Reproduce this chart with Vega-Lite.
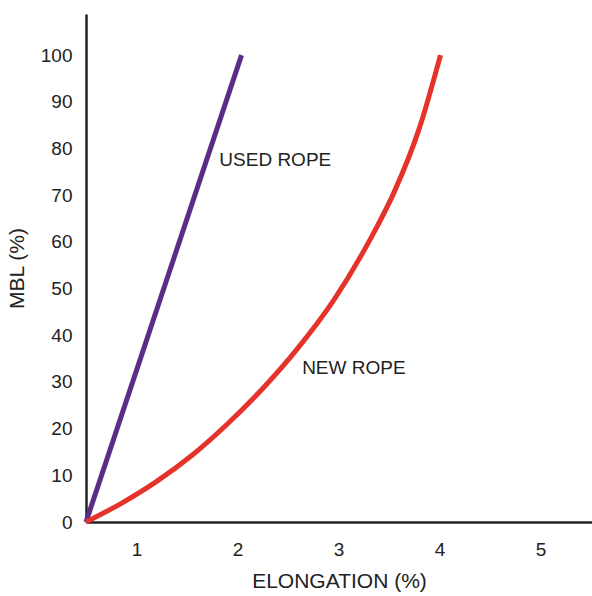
{
  "$schema": "https://vega.github.io/schema/vega-lite/v6.json",
  "width": 506,
  "height": 508,
  "autosize": "none",
  "padding": {"left": 86, "top": 14, "right": 0, "bottom": 74},
  "background": "white",
  "config": {
    "view": {"stroke": null},
    "font": "Liberation Sans"
  },
  "datasets": {
    "curves": [
      {"rope": "USED ROPE", "elong": 0.5, "mbl": 0},
      {"rope": "USED ROPE", "elong": 2.04, "mbl": 100},
      {"rope": "NEW ROPE", "elong": 0.5, "mbl": 0},
      {"rope": "NEW ROPE", "elong": 0.85, "mbl": 4.0},
      {"rope": "NEW ROPE", "elong": 1.2, "mbl": 8.7},
      {"rope": "NEW ROPE", "elong": 1.55, "mbl": 14.3},
      {"rope": "NEW ROPE", "elong": 1.9, "mbl": 21.0},
      {"rope": "NEW ROPE", "elong": 2.25, "mbl": 28.6},
      {"rope": "NEW ROPE", "elong": 2.6, "mbl": 37.3},
      {"rope": "NEW ROPE", "elong": 2.95, "mbl": 47.4},
      {"rope": "NEW ROPE", "elong": 3.3, "mbl": 60.0},
      {"rope": "NEW ROPE", "elong": 3.55, "mbl": 70.6},
      {"rope": "NEW ROPE", "elong": 3.8, "mbl": 84.3},
      {"rope": "NEW ROPE", "elong": 4.01, "mbl": 100}
    ],
    "labels": [
      {"text": "USED ROPE", "elong": 1.82, "mbl": 77.5},
      {"text": "NEW ROPE", "elong": 2.64, "mbl": 33}
    ]
  },
  "layer": [
    {
      "data": {"name": "curves"},
      "mark": {"type": "line", "strokeWidth": 5, "interpolate": "monotone", "strokeCap": "butt"},
      "encoding": {
        "x": {
          "field": "elong", "type": "quantitative",
          "scale": {"domain": [0.5, 5.51], "nice": false, "zero": false},
          "axis": {
            "title": "ELONGATION (%)", "values": [1, 2, 3, 4, 5], "format": "d",
            "ticks": false, "grid": false, "domainColor": "#222", "domainWidth": 2.5,
            "labelFontSize": 19, "labelColor": "#222", "labelPadding": 18,
            "titleFontSize": 21, "titleFontWeight": "normal", "titleColor": "#222", "titlePadding": 11
          }
        },
        "y": {
          "field": "mbl", "type": "quantitative",
          "scale": {"domain": [0, 108.8], "nice": false},
          "axis": {
            "title": "MBL (%)", "values": [0, 10, 20, 30, 40, 50, 60, 70, 80, 90, 100], "format": "d",
            "ticks": false, "grid": false, "domainColor": "#222", "domainWidth": 2.5,
            "labelFontSize": 19, "labelColor": "#222", "labelPadding": 14,
            "titleFontSize": 21, "titleFontWeight": "normal", "titleColor": "#222", "titlePadding": 13
          }
        },
        "color": {
          "field": "rope", "type": "nominal",
          "scale": {"domain": ["USED ROPE", "NEW ROPE"], "range": ["#5c2a87", "#e5322b"]},
          "legend": null
        },
        "detail": {"field": "rope"}
      }
    },
    {
      "data": {"name": "labels"},
      "mark": {"type": "text", "align": "left", "baseline": "middle", "fontSize": 19, "color": "#222"},
      "encoding": {
        "x": {"field": "elong", "type": "quantitative"},
        "y": {"field": "mbl", "type": "quantitative"},
        "text": {"field": "text"}
      }
    }
  ]
}
